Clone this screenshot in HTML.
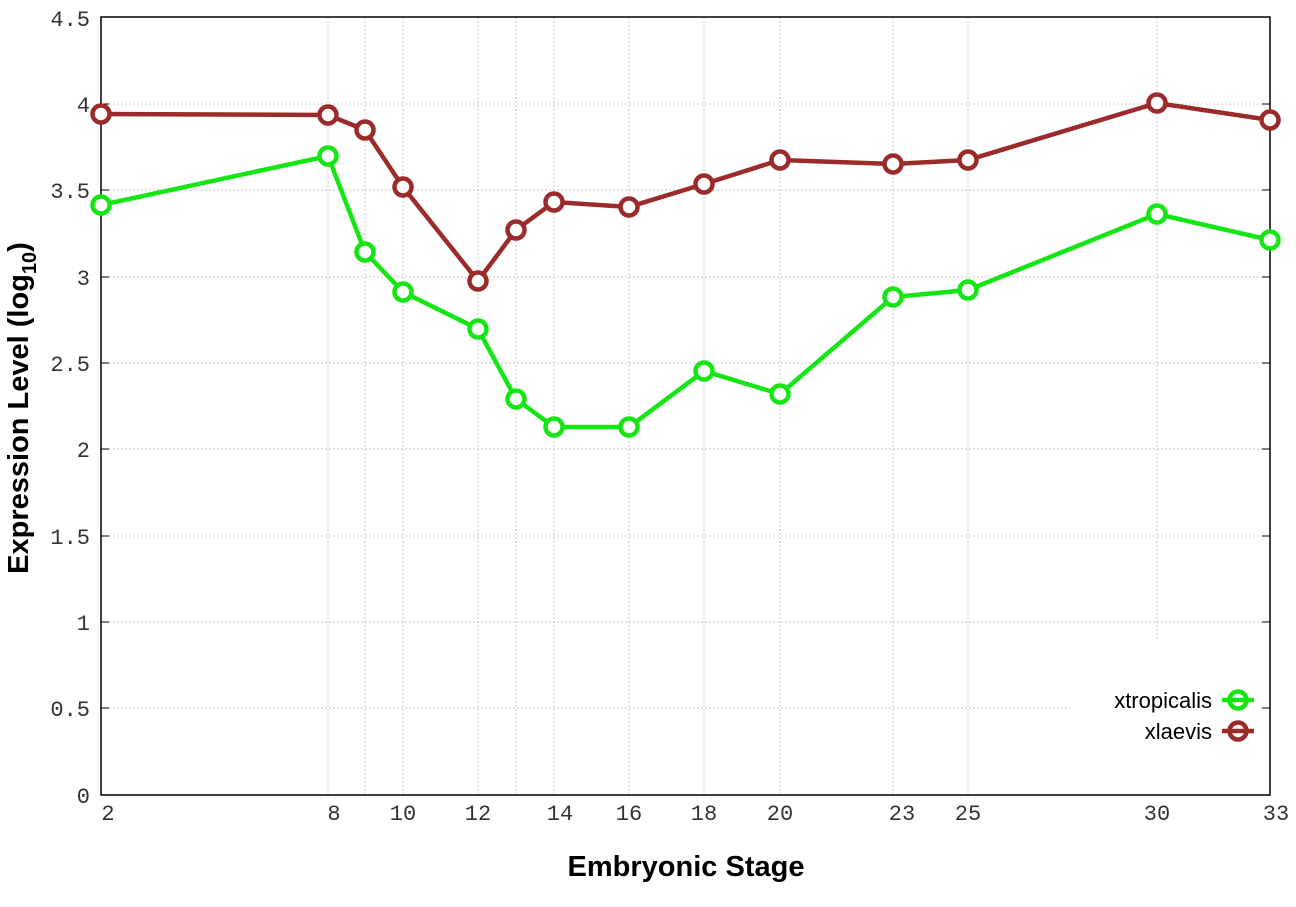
<!DOCTYPE html>
<html><head><meta charset="utf-8"><style>
html,body{margin:0;padding:0;background:#fff;}
svg{display:block;}
.t{font-family:"Liberation Mono",monospace;font-size:22px;fill:#333;}
.b{font-family:"Liberation Sans",sans-serif;font-weight:bold;fill:#000;}
</style></head><body>
<svg width="1296" height="907" viewBox="0 0 1296 907">
<g stroke="#c8c8c8" stroke-width="1" stroke-dasharray="2,2">
<line x1="101" x2="1270" y1="104" y2="104"/><line x1="101" x2="1270" y1="190" y2="190"/>
<line x1="101" x2="1270" y1="277" y2="277"/><line x1="101" x2="1270" y1="363" y2="363"/>
<line x1="101" x2="1270" y1="449" y2="449"/><line x1="101" x2="1270" y1="536" y2="536"/>
<line x1="101" x2="1270" y1="622" y2="622"/><line x1="101" x2="1070" y1="708" y2="708"/>
<line x1="328" x2="328" y1="17" y2="795"/><line x1="365" x2="365" y1="17" y2="795"/>
<line x1="403" x2="403" y1="17" y2="795"/><line x1="478" x2="478" y1="17" y2="795"/>
<line x1="516" x2="516" y1="17" y2="795"/><line x1="554" x2="554" y1="17" y2="795"/>
<line x1="629" x2="629" y1="17" y2="795"/><line x1="704" x2="704" y1="17" y2="795"/>
<line x1="780" x2="780" y1="17" y2="795"/><line x1="893" x2="893" y1="17" y2="795"/>
<line x1="968" x2="968" y1="17" y2="795"/><line x1="1157" x2="1157" y1="17" y2="640"/>
</g>
<rect x="101" y="17" width="1169" height="778" fill="none" stroke="#000" stroke-width="1.5"/>
<g stroke="#000" stroke-width="1">
<line x1="101" x2="109" y1="104" y2="104"/><line x1="101" x2="109" y1="190" y2="190"/><line x1="101" x2="109" y1="277" y2="277"/><line x1="101" x2="109" y1="363" y2="363"/><line x1="101" x2="109" y1="449" y2="449"/><line x1="101" x2="109" y1="536" y2="536"/><line x1="101" x2="109" y1="622" y2="622"/><line x1="101" x2="109" y1="708" y2="708"/>
<line x1="1262" x2="1270" y1="104" y2="104"/><line x1="1262" x2="1270" y1="190" y2="190"/><line x1="1262" x2="1270" y1="277" y2="277"/><line x1="1262" x2="1270" y1="363" y2="363"/><line x1="1262" x2="1270" y1="449" y2="449"/><line x1="1262" x2="1270" y1="536" y2="536"/><line x1="1262" x2="1270" y1="622" y2="622"/><line x1="1262" x2="1270" y1="708" y2="708"/>
</g>
<g class="t" text-anchor="end">
<text x="90" y="26">4.5</text><text x="90" y="112">4</text><text x="90" y="198">3.5</text><text x="90" y="285">3</text><text x="90" y="371">2.5</text><text x="90" y="457">2</text><text x="90" y="544">1.5</text><text x="90" y="630">1</text><text x="90" y="716">0.5</text><text x="90" y="803">0</text>
</g>
<g class="t" text-anchor="middle">
<text x="108" y="820">2</text><text x="334" y="820">8</text><text x="403" y="820">10</text><text x="478" y="820">12</text><text x="560" y="820">14</text><text x="629" y="820">16</text><text x="704" y="820">18</text><text x="780" y="820">20</text><text x="902" y="820">23</text><text x="968" y="820">25</text><text x="1157" y="820">30</text><text x="1276" y="820">33</text>
</g>
<text class="b" x="686" y="876" font-size="29" text-anchor="middle">Embryonic Stage</text>
<text class="b" font-size="29" transform="translate(28,408) rotate(-90)" text-anchor="middle">Expression Level (log<tspan font-size="20" dy="8">10</tspan><tspan dy="-8">)</tspan></text>
<g fill="none" stroke="#9b2a2a" stroke-width="4.5">
<polyline points="101,114 328,115 365,130 403,187 478,281 516,230 554,202 629,207 704,184 780,160 893,164 968,160 1157,103 1270,120"/>
<g fill="#fff"><circle cx="101" cy="114" r="8.5"/><circle cx="328" cy="115" r="8.5"/><circle cx="365" cy="130" r="8.5"/><circle cx="403" cy="187" r="8.5"/><circle cx="478" cy="281" r="8.5"/><circle cx="516" cy="230" r="8.5"/><circle cx="554" cy="202" r="8.5"/><circle cx="629" cy="207" r="8.5"/><circle cx="704" cy="184" r="8.5"/><circle cx="780" cy="160" r="8.5"/><circle cx="893" cy="164" r="8.5"/><circle cx="968" cy="160" r="8.5"/><circle cx="1157" cy="103" r="8.5"/><circle cx="1270" cy="120" r="8.5"/></g>
</g>
<g fill="none" stroke="#14e614" stroke-width="4.5">
<polyline points="101,205 328,156 365,252 403,292 478,329 516,399 554,427 629,427 704,371 780,394 893,297 968,290 1157,214 1270,240"/>
<g fill="#fff"><circle cx="101" cy="205" r="8.5"/><circle cx="328" cy="156" r="8.5"/><circle cx="365" cy="252" r="8.5"/><circle cx="403" cy="292" r="8.5"/><circle cx="478" cy="329" r="8.5"/><circle cx="516" cy="399" r="8.5"/><circle cx="554" cy="427" r="8.5"/><circle cx="629" cy="427" r="8.5"/><circle cx="704" cy="371" r="8.5"/><circle cx="780" cy="394" r="8.5"/><circle cx="893" cy="297" r="8.5"/><circle cx="968" cy="290" r="8.5"/><circle cx="1157" cy="214" r="8.5"/><circle cx="1270" cy="240" r="8.5"/></g>
</g>
<g font-family="Liberation Sans,sans-serif" font-size="22" fill="#000" text-anchor="end">
<text x="1212" y="708">xtropicalis</text><text x="1212" y="739">xlaevis</text>
</g>
<g stroke-width="4.5" fill="none">
<line x1="1222" x2="1254" y1="700" y2="700" stroke="#14e614"/><circle cx="1238" cy="700" r="8.5" stroke="#14e614"/>
<line x1="1222" x2="1254" y1="731" y2="731" stroke="#9b2a2a"/><circle cx="1238" cy="731" r="8.5" stroke="#9b2a2a"/>
</g>
</svg>
</body></html>
